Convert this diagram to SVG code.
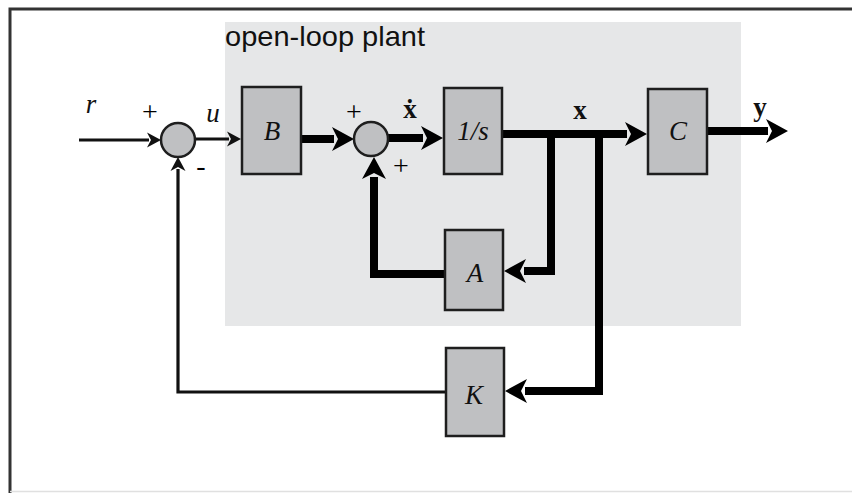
<svg xmlns="http://www.w3.org/2000/svg" width="852" height="493" viewBox="0 0 852 493">
  <style>
    .blk{fill:#bfc0c2;stroke:#1e1e1e;stroke-width:2.5}
    .sum{fill:#bfc0c2;stroke:#1e1e1e;stroke-width:2.5}
    .thin{fill:none;stroke:#111;stroke-width:3.2}
    .thick{fill:none;stroke:#000;stroke-width:8;stroke-linejoin:miter}
    .lbl{font-family:"Liberation Serif","Times New Roman",serif;font-style:italic;font-size:27px;fill:#111;text-anchor:middle}
    .vec{font-family:"Liberation Serif","Times New Roman",serif;font-weight:bold;font-size:27px;fill:#111;text-anchor:middle}
    .sgn{font-family:"Liberation Serif","Times New Roman",serif;font-size:28px;fill:#000;text-anchor:middle}
  </style>
  <defs>
    <marker id="ah" markerUnits="userSpaceOnUse" orient="auto" overflow="visible" refX="0" refY="0" markerWidth="30" markerHeight="30">
      <path d="M20,0 L-2,-12 L4,0 L-2,12 Z" fill="#000"/>
    </marker>
    <marker id="at" markerUnits="userSpaceOnUse" orient="auto" overflow="visible" refX="0" refY="0" markerWidth="20" markerHeight="20">
      <path d="M12,0 L-2,-7.5 L2,0 L-2,7.5 Z" fill="#111"/>
    </marker>
  </defs>
  <rect x="0" y="0" width="852" height="493" fill="#fff"/>
  <path d="M10,493 V9 H852" fill="none" stroke="#333" stroke-width="3"/>
  <line x1="10" y1="491.5" x2="852" y2="491.5" stroke="#e0e0e0" stroke-width="1.5"/>
  <g id="plant">
    <rect x="225" y="22" width="516" height="304" fill="#e6e7e8"/>
    <text x="225" y="46" font-family="Liberation Sans, Arial, sans-serif" font-size="28" fill="#111" textLength="200" lengthAdjust="spacingAndGlyphs">open-loop plant</text>
  </g>
  <g id="connectors">
    <path class="thin" d="M79,140 H149" marker-end="url(#at)"/>
    <path class="thin" d="M195,139 H229" marker-end="url(#at)"/>
    <path class="thick" d="M301,139 H334" marker-end="url(#ah)"/>
    <path class="thick" d="M388,138 H423" marker-end="url(#ah)"/>
    <path class="thick" d="M502,134 H627" marker-end="url(#ah)"/>
    <path class="thick" d="M707,131 H768" marker-end="url(#ah)"/>
    <path class="thick" d="M551,134 V271 H524" marker-end="url(#ah)"/>
    <path class="thick" d="M445,274 H374 V177" marker-end="url(#ah)"/>
    <path class="thick" d="M599,134 V391 H525" marker-end="url(#ah)"/>
    <path class="thin" d="M446,392 H178 V169" marker-end="url(#at)"/>
  </g>
  <g id="sum1">
    <circle class="sum" cx="178" cy="140" r="17"/>
    <text class="sgn" x="150" y="121">+</text>
    <text class="sgn" x="201" y="175">-</text>
  </g>
  <g id="sum2">
    <circle class="sum" cx="371" cy="139" r="17"/>
    <text class="sgn" x="354" y="121">+</text>
    <text class="sgn" x="401" y="175">+</text>
  </g>
  <g id="B">
    <rect class="blk" x="242" y="87" width="59" height="87"/>
    <text class="lbl" x="272" y="140">B</text>
  </g>
  <g id="integrator">
    <rect class="blk" x="444" y="88" width="58" height="86"/>
    <text class="lbl" x="473" y="140">1/s</text>
  </g>
  <g id="C">
    <rect class="blk" x="648" y="89" width="59" height="85"/>
    <text class="lbl" x="678" y="140">C</text>
  </g>
  <g id="A">
    <rect class="blk" x="445" y="230" width="58" height="80"/>
    <text class="lbl" x="475" y="282">A</text>
  </g>
  <g id="K">
    <rect class="blk" x="446" y="348" width="58" height="88"/>
    <text class="lbl" x="474" y="404">K</text>
  </g>
  <g id="labels">
    <text class="lbl" x="91" y="113">r</text>
    <text class="lbl" x="213" y="122">u</text>
    <text class="vec" x="410" y="118">ẋ</text>
    <text class="vec" x="580" y="119">x</text>
    <text class="vec" x="760" y="116">y</text>
  </g>
</svg>
